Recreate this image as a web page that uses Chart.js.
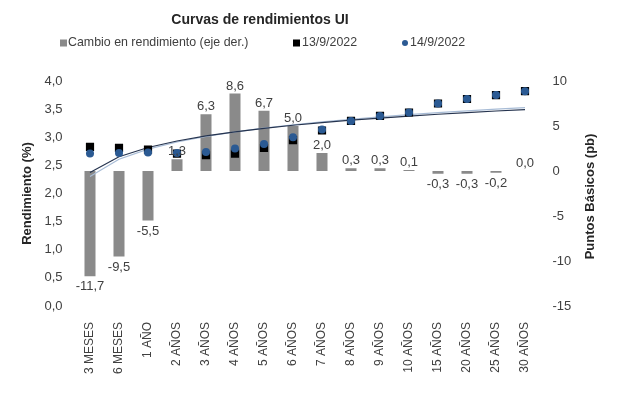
<!DOCTYPE html>
<html>
<head>
<meta charset="utf-8">
<script src="https://cdn.jsdelivr.net/npm/chart.js@4"></script>
<style>
html,body{margin:0;padding:0;background:#fff;}
#wrap{width:617px;height:395px;}
</style>
</head>
<body>
<div id="wrap"><canvas id="c" width="617" height="395"></canvas></div>
<script>
const titleText = 'Curvas de rendimientos UI';
const categories = ['3 MESES','6 MESES','1 AÑO','2 AÑOS','3 AÑOS','4 AÑOS','5 AÑOS','6 AÑOS','7 AÑOS','8 AÑOS','9 AÑOS','10 AÑOS','15 AÑOS','20 AÑOS','25 AÑOS','30 AÑOS'];
const cambioPb = [-11.7,-9.5,-5.5,1.3,6.3,8.6,6.7,5.0,2.0,0.3,0.3,0.1,-0.3,-0.3,-0.2,0.0];
const curva13 = [2.83,2.81,2.78,2.71,2.68,2.71,2.81,2.95,3.12,3.29,3.38,3.44,3.60,3.68,3.75,3.82];
const curva14 = [2.71,2.72,2.73,2.72,2.74,2.80,2.88,3.00,3.14,3.29,3.38,3.44,3.60,3.68,3.75,3.82];
const leftTicks = [0,0.5,1,1.5,2,2.5,3,3.5,4];
const rightTicks = [-15,-10,-5,0,5,10];
const seriesLabels = ['Cambio en rendimiento (eje der.)','13/9/2022','14/9/2022'];
const leftTitle = 'Rendimiento (%)';
const rightTitle = 'Puntos Básicos (pb)';

const fmt = v => v.toFixed(1).replace('.', ',');

// Excel-style logarithmic trendline, fitted by least squares to a series
function logTrend(vals){
  const xs = vals.map((_, i) => Math.log(i + 1));
  const n = vals.length;
  const mx = xs.reduce((a,b)=>a+b,0)/n;
  const my = vals.reduce((a,b)=>a+b,0)/n;
  let sxy = 0, sxx = 0;
  for (let i = 0; i < n; i++){ sxy += (xs[i]-mx)*(vals[i]-my); sxx += (xs[i]-mx)*(xs[i]-mx); }
  const b = sxy/sxx, a = my - b*mx;
  return xs.map(x => a + b*x);
}

const FONT = "'Liberation Sans', Arial, sans-serif";
const TXT = '#404040';

const overlay = {
  id: 'overlay',
  afterDatasetsDraw(chart){
    const ctx = chart.ctx;
    ctx.save();
    const meta = chart.getDatasetMeta(0);
    ctx.font = '13px ' + FONT;
    ctx.fillStyle = TXT;
    ctx.textAlign = 'center';
    meta.data.forEach((el, i) => {
      const v = cambioPb[i];
      if (v >= 0){ ctx.textBaseline = 'bottom'; ctx.fillText(fmt(v), el.x, el.y - 1); }
      else { ctx.textBaseline = 'top'; ctx.fillText(fmt(v), el.x, el.y + 4); }
    });
    ctx.restore();
  },
  afterDraw(chart){
    const ctx = chart.ctx;
    const ca = chart.chartArea;
    ctx.save();
    ctx.font = 'bold 14px ' + FONT;
    ctx.fillStyle = '#262626';
    ctx.textAlign = 'center';
    ctx.textBaseline = 'middle';
    ctx.fillText(titleText, 260, 20);
    ctx.font = '12.4px ' + FONT;
    ctx.textAlign = 'left';
    const ds = chart.data.datasets;
    const ly = 43;
    ctx.fillStyle = ds[0].backgroundColor; ctx.fillRect(60, ly - 3.5, 7, 7);
    ctx.fillStyle = TXT; ctx.fillText(ds[0].label, 68, ly);
    ctx.fillStyle = ds[1].backgroundColor; ctx.fillRect(293, ly - 3.5, 7, 7);
    ctx.fillStyle = TXT; ctx.fillText(ds[1].label, 302, ly);
    ctx.fillStyle = ds[2].backgroundColor; ctx.beginPath(); ctx.arc(405, ly, 3, 0, Math.PI*2); ctx.fill();
    ctx.fillStyle = TXT; ctx.fillText(ds[2].label, 410, ly);
    ctx.translate(590, (ca.top + ca.bottom) / 2 + 3);
    ctx.rotate(-Math.PI / 2);
    ctx.font = 'bold 13px ' + FONT;
    ctx.fillStyle = '#262626';
    ctx.textAlign = 'center';
    ctx.textBaseline = 'middle';
    ctx.fillText(rightTitle, 0, 0);
    ctx.restore();
  }
};

new Chart(document.getElementById('c'), {
  data: {
    labels: categories,
    datasets: [
      { type: 'bar', label: seriesLabels[0], data: cambioPb, yAxisID: 'y1',
        backgroundColor: '#8a8a8a', borderWidth: 0, barPercentage: 0.38, categoryPercentage: 1, order: 5 },
      { type: 'line', label: seriesLabels[1], data: curva13, yAxisID: 'y',
        showLine: false, pointStyle: 'rect', pointRadius: 5.8, pointBackgroundColor: '#000000',
        pointBorderWidth: 0, backgroundColor: '#000000', borderColor: '#000000', order: 2 },
      { type: 'line', label: seriesLabels[2], data: curva14, yAxisID: 'y',
        showLine: false, pointStyle: 'circle', pointRadius: 4, pointBackgroundColor: '#2b5a93',
        pointBorderWidth: 0, backgroundColor: '#2b5a93', borderColor: '#2b5a93', order: 1 },
      { type: 'line', label: 'trend13', data: logTrend(curva13), yAxisID: 'y',
        pointRadius: 0, borderWidth: 1.2, borderColor: '#26344f', tension: 0, order: 3 },
      { type: 'line', label: 'trend14', data: logTrend(curva14), yAxisID: 'y',
        pointRadius: 0, borderWidth: 1.2, borderColor: '#a8bcd6', tension: 0, order: 4 }
    ]
  },
  options: {
    responsive: false,
    animation: false,
    devicePixelRatio: 1,
    layout: { padding: { left: 15, right: 15, top: 81, bottom: 0 } },
    plugins: { legend: { display: false }, title: { display: false }, tooltip: { enabled: false } },
    scales: {
      x: {
        offset: true,
        grid: { display: false, drawTicks: false },
        border: { display: false },
        ticks: { minRotation: 90, maxRotation: 90, autoSkip: false, padding: 16,
          color: TXT, font: { family: FONT, size: 12 } },
        afterFit(s){ s.height = 89; }
      },
      y: {
        position: 'left', min: 0, max: 4,
        grid: { display: false, drawTicks: false },
        border: { display: false },
        afterBuildTicks(s){ s.ticks = leftTicks.map(v => ({ value: v })); },
        ticks: { padding: 13, color: TXT, font: { family: FONT, size: 13 }, callback: v => fmt(v) },
        title: { display: true, text: leftTitle, color: '#262626', padding: { top: 5, bottom: 4 },
          font: { family: FONT, size: 13, weight: 'bold' } },
        afterFit(s){ s.width = 60.5; }
      },
      y1: {
        position: 'right', min: -15, max: 10,
        grid: { display: false, drawTicks: false },
        border: { display: false },
        afterBuildTicks(s){ s.ticks = rightTicks.map(v => ({ value: v })); },
        ticks: { padding: 13, color: TXT, font: { family: FONT, size: 13 }, callback: v => String(v) },
        afterFit(s){ s.width = 62.5; }
      }
    }
  },
  plugins: [overlay]
});
</script>
</body>
</html>
